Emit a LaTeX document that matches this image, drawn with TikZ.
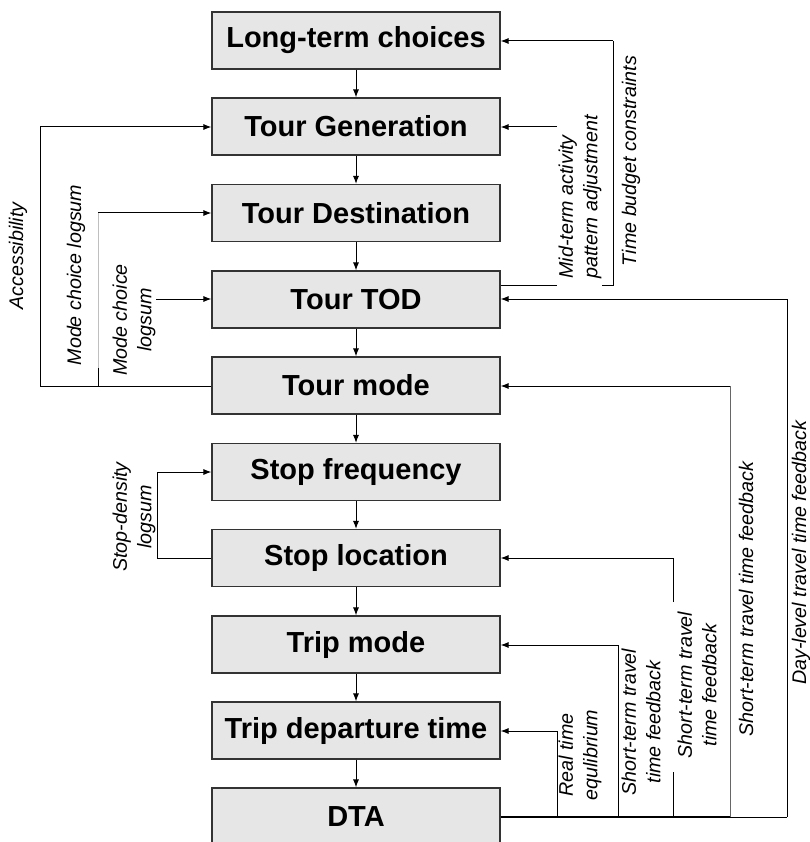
\documentclass[tikz,border=0pt]{standalone}
\usepackage{fontspec}
\setmainfont{Liberation Sans}
\usetikzlibrary{arrows.meta}
\definecolor{boxfill}{HTML}{E6E6E6}
\definecolor{edge}{HTML}{333333}
\begin{document}
\begin{tikzpicture}[x=1pt,y=-1pt,
  box/.style={draw=edge,line width=1.1pt,fill=boxfill,minimum width=288pt,minimum height=57pt,inner sep=0pt,
    font=\fontsize{29}{31}\selectfont\bfseries},
  lab/.style={inner sep=0pt,font=\fontsize{19.7}{24.5}\selectfont\itshape,rotate=90,align=center},
  ln/.style={line width=1pt,draw=black},
  arr/.style={ln,-{Latex[length=8pt,width=6pt]}}]
\useasboundingbox (0,0) rectangle (809,842);
% boxes
\node[box] (lt)  at (356,40.5) {Long-term choices};
\node[box] (tg)  at (356,126.5) {Tour Generation};
\node[box] (tdst) at (356,213) {Tour Destination};
\node[box] (tod) at (356,299.5) {Tour TOD};
\node[box] (tm)  at (356,385.5) {Tour mode};
\node[box] (sf)  at (356,472) {Stop frequency};
\node[box] (sl)  at (356,558) {Stop location};
\node[box] (trm) at (356,644.5) {Trip mode};
\node[box] (tdt) at (356,730.5) {Trip departure time};
\node[box] (dta) at (356,816.5) {DTA};
% vertical flow
\foreach \a/\b in {lt/tg,tg/tdst,tdst/tod,tod/tm,tm/sf,sf/sl,sl/trm,trm/tdt,tdt/dta}
  \draw[arr] (\a.south) -- (\b.north);
% labels
\node[lab] (tbc) at (631,161) {Time budget constraints};
\node[lab,align=left] (mta) at (580,197) {Mid-term activity\\pattern adjustment};
\node[lab] (acc) at (18,256) {Accessibility};
\node[lab] (mcl1) at (76,275) {Mode choice logsum};
\node[lab] (mcl2) at (134,320) {Mode choice\\logsum};
\node[lab] (sdl) at (134,517) {Stop-density\\logsum};
\node[lab] (rte) at (580,755) {Real time\\equlibrium};
\node[lab] (st1) at (641,722) {Short-term travel\\time feedback};
\node[lab] (st2) at (697,685) {Short-term travel\\time feedback};
\node[lab] (st3) at (746,599) {Short-term travel time feedback};
\node[lab] (dl) at (801,553) {Day-level travel time feedback};
% coordinates for bends
\coordinate (tbA) at (557,285);
\coordinate (tbB) at (602,285);
\coordinate (tbC) at (613,285);
\coordinate (tbD) at (613,41);
\coordinate (mtA) at (557,127);
\coordinate (dlA) at (787,817);
\coordinate (dlB) at (787,299);
\coordinate (s3A) at (730,817);
\coordinate (s3B) at (730,386);
\coordinate (s2A) at (673,817);
\coordinate (s2B) at (673,772);
\coordinate (s2C) at (673,602);
\coordinate (s2D) at (673,558);
\coordinate (s1A) at (618,817);
\coordinate (s1B) at (618,645);
\coordinate (rA) at (557,817);
\coordinate (rB) at (557,731);
\coordinate (acA) at (40,386);
\coordinate (acB) at (40,127);
\coordinate (mcA) at (98,386);
\coordinate (mcB) at (98,213);
\coordinate (m2A) at (156,299);
\coordinate (sdA) at (157,558);
\coordinate (sdB) at (157,472);
% right-side feedback
\draw[ln] (tod.east |- tbA) -- (tbA);
\draw[ln] (tbB) -- (tbC) -- (tbD);
\draw[arr] (tbD) -- (lt.east |- tbD);
\draw[arr] (mtA) -- (tg.east |- mtA);
\draw[ln,line width=1.8pt] (dta.east |- dlA) -- (s3A);
\draw[ln] (s3A) -- (dlA);
\draw[ln] (dlA) -- (dlB);
\draw[arr] (dlB) -- (tod.east |- dlB);
\draw[ln,draw=black!60] (s3A) -- (s3B);
\draw[arr] (s3B) -- (tm.east |- s3B);
\draw[ln] (s2A) -- (s2B);
\draw[ln] (s2C) -- (s2D);
\draw[arr] (s2D) -- (sl.east |- s2D);
\draw[ln] (s1A) -- (s1B);
\draw[arr] (s1B) -- (trm.east |- s1B);
\draw[ln] (rA) -- (rB);
\draw[arr] (rB) -- (tdt.east |- rB);
% left-side feedback
\draw[ln] (tm.west |- acA) -- (acA) -- (acB);
\draw[arr] (acB) -- (tg.west |- acB);
\draw[ln,draw=black!25] (mcA) -- (mcB);
\draw[ln] (mcA) -- ++(0,-18);
\draw[arr] (mcB) -- (tdst.west |- mcB);
\draw[arr] (m2A) -- (tod.west |- m2A);
\draw[ln] (sl.west |- sdA) -- (sdA) -- (sdB);
\draw[arr] (sdB) -- (sf.west |- sdB);
\end{tikzpicture}
\end{document}
